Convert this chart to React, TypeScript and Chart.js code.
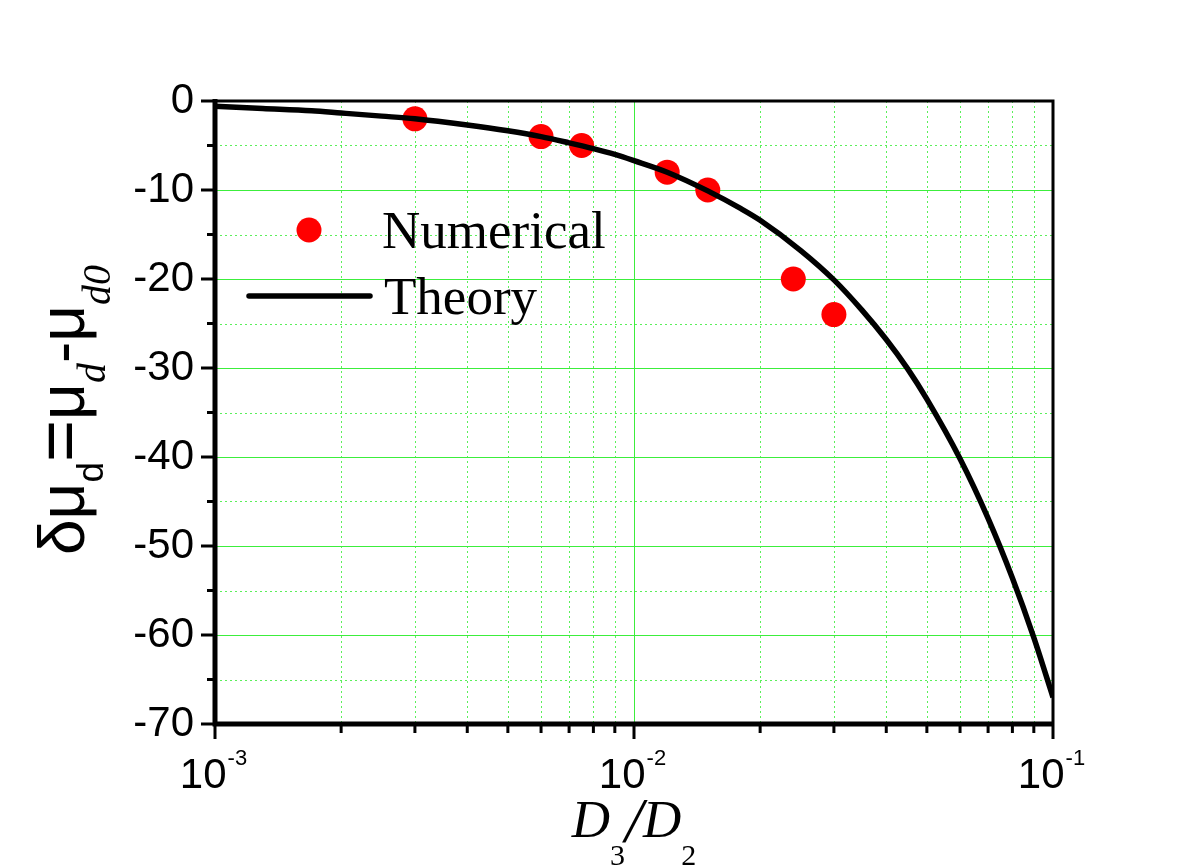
import React, { useEffect, useRef } from 'react';
import { Chart, registerables } from 'chart.js';

Chart.register(...registerables);

// ---- data ----
const numericalX = [0.003, 0.006, 0.0075, 0.012, 0.015, 0.024, 0.03];
const numericalY = [-2, -4, -5, -8, -10, -20, -24];

const theoryX = [0.001, 0.0013, 0.0017, 0.002, 0.0025, 0.003, 0.004, 0.005, 0.006, 0.007, 0.008, 0.009, 0.01, 0.012, 0.015, 0.018, 0.02, 0.025, 0.03, 0.035, 0.04, 0.045, 0.05, 0.06, 0.07, 0.08, 0.09, 0.1];
const theoryY = [-0.6, -0.85, -1.1, -1.35, -1.7, -2.0, -2.7, -3.35, -4.0, -4.7, -5.35, -6.0, -6.7, -8.0, -10.1, -12.1, -13.4, -16.8, -20.1, -23.5, -26.8, -30.1, -33.5, -40.2, -46.9, -53.6, -60.3, -67.0];

const xDecades = [0.001, 0.01, 0.1];
const xTickBase = ['10', '10', '10'];
const xTickExp = ['-3', '-2', '-1'];
const xMinorMultipliers = [2, 3, 4, 5, 6, 7, 8, 9];

const yMin = -70;
const yMax = 0;
const yMajorStep = 10;
const yMinorStep = 5;

const legendLabels = ['Numerical', 'Theory'];

const SANS = "'Liberation Sans', Arial, sans-serif";
const SERIF = "'Liberation Serif', 'Times New Roman', serif";
const GRID_SOLID = 'rgb(60,238,60)';
const GRID_DOT = 'rgb(90,240,90)';

const decorPlugin = {
  id: 'decor',
  beforeDatasetsDraw(chart: any) {
    const { ctx, chartArea: a, scales } = chart;
    const x = scales.x;
    const y = scales.y;
    ctx.save();
    ctx.lineWidth = 1;
    // minor dotted grid
    ctx.strokeStyle = GRID_DOT;
    ctx.setLineDash([2, 3]);
    ctx.beginPath();
    for (let d = 0; d < xDecades.length - 1; d++) {
      for (const m of xMinorMultipliers) {
        const px = Math.round(x.getPixelForValue(xDecades[d] * m)) + 0.5;
        ctx.moveTo(px, a.top);
        ctx.lineTo(px, a.bottom);
      }
    }
    for (let v = yMax - yMinorStep; v > yMin; v -= yMajorStep) {
      const py = Math.round(y.getPixelForValue(v)) + 0.5;
      ctx.moveTo(a.left, py);
      ctx.lineTo(a.right, py);
    }
    ctx.stroke();
    // major solid grid
    ctx.setLineDash([]);
    ctx.strokeStyle = GRID_SOLID;
    ctx.beginPath();
    for (let d = 1; d < xDecades.length - 1; d++) {
      const px = Math.round(x.getPixelForValue(xDecades[d])) + 0.5;
      ctx.moveTo(px, a.top);
      ctx.lineTo(px, a.bottom);
    }
    for (let v = yMax - yMajorStep; v > yMin; v -= yMajorStep) {
      const py = Math.round(y.getPixelForValue(v)) + 0.5;
      ctx.moveTo(a.left, py);
      ctx.lineTo(a.right, py);
    }
    ctx.stroke();
    ctx.restore();
  },
  afterDatasetsDraw(chart: any) {
    const { ctx, chartArea: a, scales } = chart;
    const x = scales.x;
    const y = scales.y;
    ctx.save();
    ctx.strokeStyle = '#000';
    ctx.fillStyle = '#000';
    // top & right frame
    ctx.lineWidth = 3;
    ctx.beginPath();
    ctx.moveTo(a.left, a.top);
    ctx.lineTo(a.right, a.top);
    ctx.lineTo(a.right, a.bottom);
    ctx.stroke();
    // left & bottom axes
    ctx.lineWidth = 5;
    ctx.beginPath();
    ctx.moveTo(a.left, a.top - 2);
    ctx.lineTo(a.left, a.bottom);
    ctx.lineTo(a.right + 1, a.bottom);
    ctx.stroke();
    // y ticks
    ctx.lineWidth = 3;
    ctx.beginPath();
    for (let v = yMax; v >= yMin; v -= yMinorStep) {
      const py = y.getPixelForValue(v);
      const major = Math.abs(v % yMajorStep) < 1e-9;
      ctx.moveTo(a.left, py);
      ctx.lineTo(a.left - (major ? 14 : 8), py);
    }
    // x ticks
    for (let d = 0; d < xDecades.length; d++) {
      const px = x.getPixelForValue(xDecades[d]);
      ctx.moveTo(px, a.bottom);
      ctx.lineTo(px, a.bottom + 15);
      if (d < xDecades.length - 1) {
        for (const m of xMinorMultipliers) {
          const mx = x.getPixelForValue(xDecades[d] * m);
          ctx.moveTo(mx, a.bottom);
          ctx.lineTo(mx, a.bottom + 9);
        }
      }
    }
    ctx.stroke();

    // x tick labels with superscripts
    ctx.textBaseline = 'alphabetic';
    ctx.textAlign = 'left';
    for (let d = 0; d < xDecades.length; d++) {
      const px = x.getPixelForValue(xDecades[d]);
      ctx.font = `42px ${SANS}`;
      const wb = ctx.measureText(xTickBase[d]).width;
      ctx.font = `22px ${SANS}`;
      const we = ctx.measureText(xTickExp[d]).width;
      const start = px - (wb + we) / 2 - 2;
      ctx.font = `42px ${SANS}`;
      ctx.fillText(xTickBase[d], start, a.bottom + 64);
      ctx.font = `22px ${SANS}`;
      ctx.fillText(xTickExp[d], start + wb + 1, a.bottom + 41);
    }

    // x title  D3/D2
    const xsegs = [
      { t: 'D', f: `italic 53px ${SERIF}`, dy: 0 },
      { t: '3', f: `30px ${SERIF}`, dy: 28 },
      { t: '/', f: `italic 64px ${SERIF}`, dy: 5 },
      { t: 'D', f: `italic 53px ${SERIF}`, dy: 0 },
      { t: '2', f: `30px ${SERIF}`, dy: 28 },
    ];
    let total = 0;
    for (const s of xsegs) { ctx.font = s.f; total += ctx.measureText(s.t).width; }
    let cx = (a.left + a.right) / 2 - total / 2;
    const xb = 837;
    for (const s of xsegs) {
      ctx.font = s.f;
      ctx.fillText(s.t, cx, xb + s.dy);
      cx += ctx.measureText(s.t).width;
    }

    // y title  δμd=μd-μd0 (rotated)
    const ysegs = [
      { t: 'δμ', f: `64px ${SANS}`, dy: 0 },
      { t: 'd', f: `37px ${SANS}`, dy: 19 },
      { t: '=', f: `72px ${SANS}`, dy: 0 },
      { t: 'μ', f: `64px ${SANS}`, dy: 0 },
      { t: 'd', f: `italic 40px ${SERIF}`, dy: 21 },
      { t: '-', f: `64px ${SANS}`, dy: 0 },
      { t: 'μ', f: `64px ${SANS}`, dy: 0 },
      { t: 'd0', f: `italic 40px ${SERIF}`, dy: 26 },
    ];
    let ytotal = 0;
    for (const s of ysegs) { ctx.font = s.f; ytotal += ctx.measureText(s.t).width; }
    ctx.save();
    ctx.translate(84, 410);
    ctx.rotate(-Math.PI / 2);
    let u = -ytotal / 2;
    for (const s of ysegs) {
      ctx.font = s.f;
      ctx.fillText(s.t, u, s.dy);
      u += ctx.measureText(s.t).width;
    }
    ctx.restore();

    // legend
    ctx.fillStyle = '#ff0000';
    ctx.beginPath();
    ctx.arc(309, 230, 12.5, 0, Math.PI * 2);
    ctx.fill();
    ctx.strokeStyle = '#000';
    ctx.lineWidth = 5.5;
    ctx.lineCap = 'round';
    ctx.beginPath();
    ctx.moveTo(249, 296);
    ctx.lineTo(370, 296);
    ctx.stroke();
    ctx.fillStyle = '#000';
    ctx.font = `53px ${SERIF}`;
    ctx.fillText(legendLabels[0], 382, 248);
    ctx.fillText(legendLabels[1], 384, 314);
    ctx.restore();
  },
};

export default function App() {
  const ref = useRef<HTMLCanvasElement | null>(null);
  useEffect(() => {
    if (!ref.current) return;
    const chart = new Chart(ref.current, {
      type: 'scatter',
      data: {
        datasets: [
          {
            label: legendLabels[1],
            data: theoryX.map((v, i) => ({ x: v, y: theoryY[i] })),
            showLine: true,
            borderColor: '#000',
            borderWidth: 5.5,
            pointRadius: 0,
            cubicInterpolationMode: 'monotone',
            order: 0,
          },
          {
            label: legendLabels[0],
            data: numericalX.map((v, i) => ({ x: v, y: numericalY[i] })),
            showLine: false,
            backgroundColor: '#ff0000',
            borderWidth: 0,
            pointRadius: 12.5,
            order: 1,
          },
        ],
      },
      options: {
        responsive: false,
        animation: false,
        events: [],
        devicePixelRatio: 1,
        layout: { padding: { left: 0, right: 143, top: 101, bottom: 0 } },
        plugins: { legend: { display: false }, tooltip: { enabled: false }, title: { display: false } },
        scales: {
          x: {
            type: 'logarithmic',
            min: 0.001,
            max: 0.1,
            grid: { display: false, drawTicks: false },
            border: { display: false },
            ticks: { display: false },
            afterFit: (s: any) => { s.height = 143; },
          },
          y: {
            type: 'linear',
            min: yMin,
            max: yMax,
            grid: { display: false, drawTicks: false },
            border: { display: false },
            ticks: {
              stepSize: yMajorStep,
              color: '#000',
              padding: 21,
              font: { family: SANS, size: 42 },
            },
            afterFit: (s: any) => { s.width = 215; },
          },
        },
      },
      plugins: [decorPlugin],
    });
    return () => chart.destroy();
  }, []);
  return (
    <div style={{ position: 'fixed', left: 0, top: 0, width: 1196, height: 867, background: '#fff' }}>
      <canvas ref={ref} width={1196} height={867} style={{ width: 1196, height: 867 }} />
    </div>
  );
}
